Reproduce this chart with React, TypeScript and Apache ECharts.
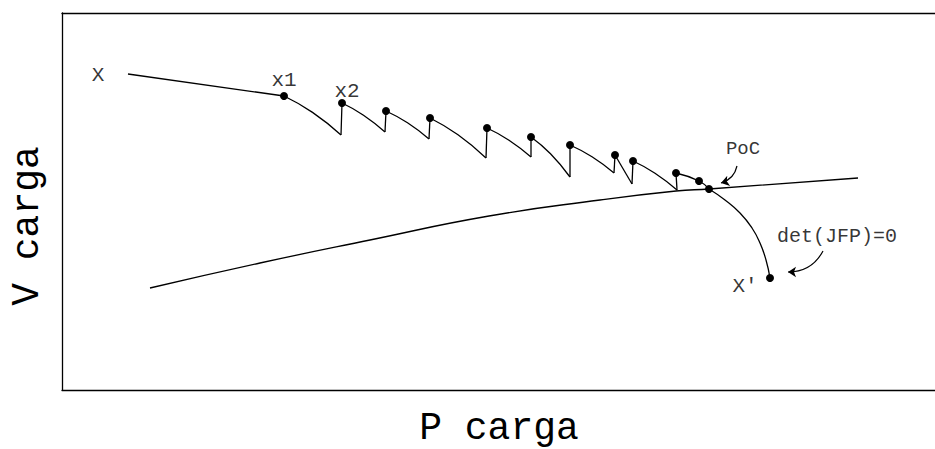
import React, { useEffect, useRef } from "react";
import * as echarts from "echarts";

// Values (P carga on x, V carga on y; y grows downward)
const pathSegments: number[][][] = [
  [[128, 74], [284, 96]],
  [[284, 96], [312.5, 112.4], [341, 135]],
  [[341, 135], [342, 103]],
  [[342, 103], [363.5, 115.2], [385, 132]],
  [[385, 132], [386, 111]],
  [[386, 111], [407.5, 122.8], [429, 139]],
  [[429, 139], [430, 118]],
  [[430, 118], [458, 134.8], [486, 158]],
  [[486, 158], [487, 128]],
  [[487, 128], [509, 140.2], [531, 157]],
  [[531, 157], [531, 137]],
  [[531, 137], [550.5, 153.8], [570, 177]],
  [[570, 177], [570, 145]],
  [[570, 145], [592, 156.8], [614, 173]],
  [[614, 173], [615, 155]],
  [[615, 155], [632, 184]],
  [[632, 184], [633, 161]],
  [[633, 161], [655, 173.2], [677, 190]],
  [[677, 190], [676, 173]],
  [[676, 173], [699, 181], [709, 189]],
  [[709, 189], [725, 200], [740, 213], [752, 228], [760, 243], [766, 260], [770, 278]],
];

const lowerCurve: number[][] = [
  [150, 288], [260, 263], [370, 240], [489, 216], [600, 200], [676, 191], [709, 189], [858, 178],
];

const dots: number[][] = [
  [284, 96], [342, 103], [386, 111], [430, 118], [487, 128], [531, 137], [570, 145],
  [615, 155], [633, 161], [676, 173], [699, 181], [709, 189], [770, 278],
];

const annotations: { text: string; at: number[]; size: number }[] = [
  { text: "X", at: [98, 75], size: 21 },
  { text: "x1", at: [284, 80], size: 21 },
  { text: "x2", at: [347, 91], size: 21 },
  { text: "PoC", at: [743, 149], size: 19 },
  { text: "det(JFP)=0", at: [837, 236], size: 20 },
  { text: "X'", at: [745, 286], size: 21 },
];

const arrows: { from: number[]; to: number[]; curve: number }[] = [
  { from: [737, 166], to: [721, 183], curve: 0.3 },
  { from: [823, 251], to: [788, 272], curve: 0.3 },
];

const FONT = '"Liberation Mono", "DejaVu Sans Mono", monospace';

const frameAxis = {
  axisLine: { show: true, onZero: false, lineStyle: { color: "#000", width: 1.3 } },
  axisTick: { show: false },
  axisLabel: { show: false },
  splitLine: { show: false },
};

export default function App() {
  const ref = useRef<HTMLDivElement>(null);
  useEffect(() => {
    if (!ref.current) return;
    const chart = echarts.init(ref.current, undefined, { renderer: "svg" });
    const lineSeries = pathSegments.map((seg) => ({
      type: "line",
      data: seg,
      smooth: seg.length > 2,
      showSymbol: false,
      symbol: "none",
      lineStyle: { color: "#000", width: 1.3 },
      z: 2,
    }));
    chart.setOption({
      animation: false,
      grid: { left: 62, right: 0, top: 13, bottom: 59, show: false },
      xAxis: [
        { type: "value", min: 62, max: 935, position: "bottom", ...frameAxis },
        { type: "value", min: 62, max: 935, position: "top", ...frameAxis },
      ],
      yAxis: { type: "value", min: 13, max: 390, inverse: true, position: "left", ...frameAxis },
      series: [
        ...lineSeries,
        {
          type: "line",
          data: lowerCurve,
          smooth: true,
          symbol: "none",
          lineStyle: { color: "#000", width: 1.3 },
          z: 2,
        },
        {
          type: "scatter",
          data: dots,
          symbolSize: 8,
          itemStyle: { color: "#000", opacity: 1 },
          z: 4,
        },
        {
          type: "scatter",
          symbolSize: 1,
          itemStyle: { color: "rgba(0,0,0,0)" },
          data: annotations.map((a) => ({
            value: a.at,
            label: {
              show: true,
              position: "inside",
              formatter: a.text,
              fontSize: a.size,
              fontFamily: FONT,
              color: "#000",
              textBorderWidth: 0,
            },
          })),
          z: 5,
        },
        {
          type: "lines",
          coordinateSystem: "cartesian2d",
          symbol: ["none", "arrow"],
          symbolSize: 8,
          lineStyle: { color: "#000", width: 1.2, opacity: 1 },
          data: arrows.map((a) => ({
            coords: [a.from, a.to],
            lineStyle: { curveness: a.curve },
          })),
          z: 5,
        },
      ],
      graphic: [
        {
          type: "text",
          x: 499,
          y: 428,
          style: {
            text: "P carga",
            fontSize: 38,
            fontFamily: FONT,
            fill: "#000",
            align: "center",
            verticalAlign: "middle",
          },
        },
        {
          type: "text",
          x: 27,
          y: 226,
          rotation: Math.PI / 2,
          style: {
            text: "V carga",
            fontSize: 38,
            fontFamily: FONT,
            fill: "#000",
            align: "center",
            verticalAlign: "middle",
          },
        },
      ],
    });
    return () => chart.dispose();
  }, []);
  return (
    <div
      ref={ref}
      style={{ position: "absolute", left: 0, top: 0, width: 935, height: 449, background: "#fff" }}
    />
  );
}
